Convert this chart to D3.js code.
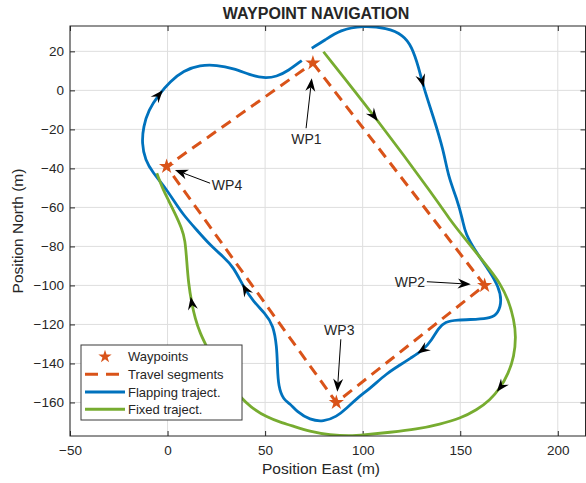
<!DOCTYPE html>
<html><head><meta charset="utf-8">
<script src="https://d3js.org/d3.v7.min.js"></script>
<style>
  body { margin: 0; background: #fff; }
  text { font-family: "Liberation Sans", Arial, Helvetica, sans-serif; fill: #262626; }
</style>
</head>
<body>
<svg id="chart" width="586" height="483"></svg>
<script>
// ---- data (metres, East / North) ----
const waypointNames = ["WP1", "WP2", "WP3", "WP4"];
const waypointEast = [74.5, 162.5, 86.5, -0.5];
const waypointNorth = [14, -100, -160, -39];
const travelOrder = [0, 1, 2, 3, 0];

const flappingTraj = [[73.9,21.6],[80.7,25.8],[88.4,31],[100,33.2],[112.3,32],[120.9,28.4],[125.2,22.4],
  [128.6,12.2],[131.1,1.9],[136.2,-13.5],[141.4,-30.6],[143.9,-44.3],[148.2,-55.3],[151.3,-66.5],
  [152.5,-73.3],[158.5,-83.5],[165.3,-93],[169.6,-100.7],[171.3,-107.5],[169.6,-114.3],[165.3,-116.9],
  [158.5,-117.4],[148.2,-117.7],[142.2,-118.6],[138.8,-122],[135.4,-128],[131.1,-133.1],[124.3,-137.4],
  [119.2,-140.8],[112.3,-145.1],[103.8,-152.8],[97,-157.9],[91.8,-163],[86.7,-167.3],[79.9,-169.9],
  [73,-169],[66.2,-164.7],[62.8,-160.5],[59.4,-158.7],[56.8,-151.9],[56.3,-141.7],[56,-131.4],
  [54.2,-120.3],[50,-114.3],[44,-108.3],[38.9,-100.7],[33.7,-90.4],[28.6,-85.3],[21.8,-79.3],
  [15,-71.6],[8.1,-63.9],[3,-56.2],[-2.2,-48.5],[-7.3,-42.5],[-11.5,-35.7],[-13.2,-27.1],[-12.4,-18.6],
  [-9.8,-10.1],[-4.7,-2.4],[1.3,4.5],[8.1,10.1],[16.7,13],[25.2,13],[33.7,11.3],[42.3,7.9],[49.1,6.2],
  [56,7],[61.9,10.1],[68.8,15.3]];

const fixedTraj = [[79.9,19.8],[106.4,-13.5],[138,-56.2],[144.8,-66.5],[151.6,-75],[158.5,-83.5],
  [165.3,-92.1],[170.4,-98.9],[174.7,-107.5],[177.6,-117.7],[178.6,-126.3],[177.6,-136.5],[174.7,-145.1],
  [170.4,-152.8],[165.3,-158.7],[158.5,-163.9],[149.9,-168.2],[139.7,-171.1],[127.7,-173.8],[114,-175.3],
  [100.4,-176.7],[93.5,-177.2],[83.3,-176.7],[73,-175],[62.8,-171.6],[59.4,-170.7],[50.8,-167.6],
  [42.3,-162.2],[37.2,-157.1],[30,-149],[24,-140],[20.1,-131.4],[16.7,-124.6],[14.1,-116.9],[12.4,-109.2],
  [10.7,-98.9],[9.8,-87],[9,-76.7],[7.3,-70.7],[3.8,-63],[0.4,-56.2],[-2.2,-51.1],[-5.5,-42.5]];

// direction arrows: which trajectory, East, North of the tip
const dirArrows = [["flap",-2.5,0.2],["flap",130.8,1.6],["fixed",107.5,-16],["flap",128.5,-135.7],
  ["fixed",168.7,-154.5],["flap",38.9,-98.9],["fixed",11.5,-105.8]];

// waypoint labels: text pos, anchor, arrow from -> to
const wpLabels = [
  {name: "WP1", tx: 71.2, ty: -27.6, anchor: "middle", x1: 71.0, y1: -19.4, x2: 73.9, y2: 6.2},
  {name: "WP2", tx: 132.0, ty: -100.7, anchor: "end", x1: 132.9, y1: -98.1, x2: 155.4, y2: -99.4},
  {name: "WP3", tx: 88.0, ty: -125.4, anchor: "middle", x1: 88.8, y1: -127.6, x2: 87.0, y2: -154.5},
  {name: "WP4", tx: 22.7, ty: -51.1, anchor: "start", x1: 21.8, y1: -47.6, x2: 3.8, y2: -40.8}
];

const xTicks = [-50, 0, 50, 100, 150, 200];
const yTicks = [20, 0, -20, -40, -60, -80, -100, -120, -140, -160];
const legendItems = ["Waypoints", "Travel segments", "Flapping traject.", "Fixed traject."];

const orange = "#D95319", blue = "#0072BD", green = "#77AC30";

// ---- layout ----
const svg = d3.select("#chart");
const margin = {left: 70, top: 26};
const w = 515.5, h = 410;
const x = d3.scaleLinear().domain([-50, 214.2]).range([0, w]);
const y = d3.scaleLinear().domain([-177.2, 33]).range([h, 0]);

const g = svg.append("g").attr("transform", `translate(${margin.left},${margin.top})`);

g.append("defs").append("clipPath").attr("id", "clip")
  .append("rect").attr("width", w).attr("height", h);

// grid
g.append("g").selectAll("line").data(xTicks).join("line")
  .attr("x1", d => x(d)).attr("x2", d => x(d)).attr("y1", 0).attr("y2", h)
  .attr("stroke", "#dedede").attr("stroke-width", 1);
g.append("g").selectAll("line").data(yTicks).join("line")
  .attr("y1", d => y(d)).attr("y2", d => y(d)).attr("x1", 0).attr("x2", w)
  .attr("stroke", "#dedede").attr("stroke-width", 1);

// axes
function styleAxis(sel) {
  sel.select(".domain").remove();
  sel.selectAll(".tick line").attr("stroke", "#262626");
  sel.selectAll("text").attr("font-size", "13.5px").attr("fill", "#262626")
    .style("font-family", '"Liberation Sans", Arial, sans-serif');
}
g.append("g").attr("transform", `translate(0,${h})`)
  .call(d3.axisBottom(x).tickValues(xTicks).tickSize(-5).tickPadding(9).tickFormat(d3.format("d")))
  .call(styleAxis);
g.append("g")
  .call(d3.axisLeft(y).tickValues(yTicks).tickSize(-5).tickPadding(6).tickFormat(d3.format("d")))
  .call(styleAxis);
g.append("g").call(d3.axisTop(x).tickValues(xTicks).tickSize(-5).tickFormat(""))
  .call(styleAxis);
g.append("g").attr("transform", `translate(${w},0)`)
  .call(d3.axisRight(y).tickValues(yTicks).tickSize(-5).tickFormat(""))
  .call(styleAxis);

// trajectories (smoothed through the read-off points)
const line = d3.line().x(d => x(d[0])).y(d => y(d[1])).curve(d3.curveBasis);
const plot = g.append("g").attr("clip-path", "url(#clip)");
const flapPath = plot.append("path").datum(flappingTraj).attr("d", line)
  .attr("fill", "none").attr("stroke", blue).attr("stroke-width", 2.8);
const fixedPath = plot.append("path").datum(fixedTraj).attr("d", line)
  .attr("fill", "none").attr("stroke", green).attr("stroke-width", 2.8);

// travel segments
const travel = travelOrder.map(i => [waypointEast[i], waypointNorth[i]]);
plot.append("path").datum(travel)
  .attr("d", d3.line().x(d => x(d[0])).y(d => y(d[1])))
  .attr("fill", "none").attr("stroke", orange).attr("stroke-width", 3)
  .attr("stroke-dasharray", "11,7");

// waypoints
const star = d3.symbol().type(d3.symbolStar).size(72);
plot.selectAll(".wp").data(waypointNames).join("path")
  .attr("transform", (d, i) => `translate(${x(waypointEast[i])},${y(waypointNorth[i])})`)
  .attr("d", star).attr("fill", orange);

// direction arrowheads along trajectories
const headPath = "M0,0 L-13,-5 L-8.5,0 L-13,5 Z";
function nearest(node, px, py) {
  const L = node.getTotalLength();
  let best = 0, bd = Infinity;
  for (let l = 0; l <= L; l += 0.5) {
    const p = node.getPointAtLength(l);
    const dd = (p.x - px) ** 2 + (p.y - py) ** 2;
    if (dd < bd) { bd = dd; best = l; }
  }
  const a = node.getPointAtLength(Math.max(0, best - 4));
  const b = node.getPointAtLength(Math.min(L, best + 4));
  const p = node.getPointAtLength(best);
  return {x: p.x, y: p.y, ang: Math.atan2(b.y - a.y, b.x - a.x) * 180 / Math.PI};
}
dirArrows.forEach(d => {
  const node = (d[0] === "flap" ? flapPath : fixedPath).node();
  const p = nearest(node, x(d[1]), y(d[2]));
  g.append("path").attr("d", headPath).attr("fill", "#000")
    .attr("transform", `translate(${p.x},${p.y}) rotate(${p.ang})`);
});

// waypoint labels with annotation arrows
const annHead = "M0,0 L-13,-5 L-9,0 L-13,5 Z";
wpLabels.forEach(d => {
  const X1 = x(d.x1), Y1 = y(d.y1), X2 = x(d.x2), Y2 = y(d.y2);
  const ang = Math.atan2(Y2 - Y1, X2 - X1);
  g.append("line").attr("x1", X1).attr("y1", Y1)
    .attr("x2", X2 - 9 * Math.cos(ang)).attr("y2", Y2 - 9 * Math.sin(ang))
    .attr("stroke", "#000").attr("stroke-width", 1);
  g.append("path").attr("d", annHead).attr("fill", "#000")
    .attr("transform", `translate(${X2},${Y2}) rotate(${ang * 180 / Math.PI})`);
  g.append("text").attr("x", x(d.tx)).attr("y", y(d.ty))
    .attr("text-anchor", d.anchor).attr("font-size", "14px").attr("fill", "#000").text(d.name);
});

// box
g.append("rect").attr("width", w).attr("height", h)
  .attr("fill", "none").attr("stroke", "#262626").attr("stroke-width", 1);

// legend
const lg = svg.append("g").attr("transform", "translate(81,345)");
lg.append("rect").attr("width", 161).attr("height", 75)
  .attr("fill", "#fff").attr("stroke", "#3a3a3a").attr("stroke-width", 1);
const rowY = [11.7, 29.3, 47, 64.3];
lg.append("path").attr("d", d3.symbol().type(d3.symbolStar).size(55))
  .attr("transform", `translate(24,${rowY[0]})`).attr("fill", orange);
lg.append("line").attr("x1", 4).attr("x2", 44).attr("y1", rowY[1]).attr("y2", rowY[1])
  .attr("stroke", orange).attr("stroke-width", 3).attr("stroke-dasharray", "13,8");
lg.append("line").attr("x1", 4).attr("x2", 44).attr("y1", rowY[2]).attr("y2", rowY[2])
  .attr("stroke", blue).attr("stroke-width", 3);
lg.append("line").attr("x1", 4).attr("x2", 44).attr("y1", rowY[3]).attr("y2", rowY[3])
  .attr("stroke", green).attr("stroke-width", 3);
lg.selectAll(".lt").data(legendItems).join("text")
  .attr("x", 47).attr("y", (d, i) => rowY[i]).attr("dy", "0.36em")
  .attr("font-size", "13px").attr("fill", "#000").text(d => d);

// titles
svg.append("text").attr("x", 316).attr("y", 19).attr("text-anchor", "middle")
  .attr("font-size", "16px").attr("font-weight", "bold").attr("fill", "#000")
  .text("WAYPOINT NAVIGATION");
svg.append("text").attr("x", 321).attr("y", 474).attr("text-anchor", "middle")
  .attr("font-size", "15.5px").text("Position East (m)");
svg.append("text").attr("transform", "translate(23,231) rotate(-90)").attr("text-anchor", "middle")
  .attr("font-size", "15.5px").text("Position North (m)");
</script>
</body>
</html>
